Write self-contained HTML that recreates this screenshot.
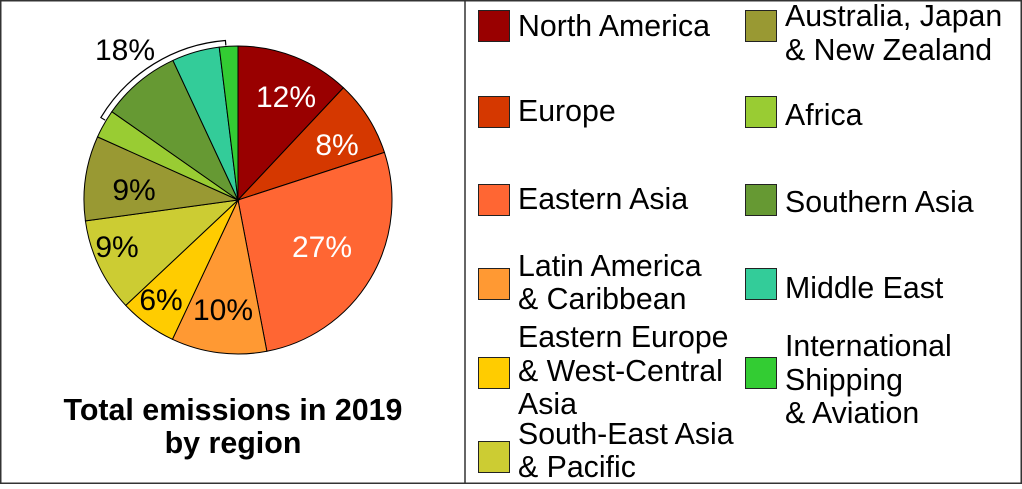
<!DOCTYPE html>
<html><head><meta charset="utf-8"><style>
html,body{margin:0;padding:0;background:#fff}
body{width:1022px;height:484px;overflow:hidden;font-family:"Liberation Sans",Arial,sans-serif}
</style></head><body>
<svg id="s" width="1022" height="484" viewBox="0 0 1022 484" xmlns="http://www.w3.org/2000/svg" font-family="Liberation Sans, Arial, sans-serif">
<rect x="0.5" y="0.5" width="1021" height="483" fill="#fff" stroke="#333" stroke-width="2"/>
<line x1="465" y1="0" x2="465" y2="484" stroke="#333" stroke-width="1.5"/>
<g id="pie"></g>
<path id="br" fill="none" stroke="#000" stroke-width="1.2"/>
<g font-size="30" text-anchor="middle">
<text x="286" y="107" fill="#fff">12%</text>
<text x="337" y="155" fill="#fff">8%</text>
<text x="322" y="257" fill="#fff">27%</text>
<text x="223" y="320">10%</text>
<text x="161" y="310">6%</text>
<text x="117" y="257">9%</text>
<text x="134" y="200">9%</text>
<text x="125" y="60">18%</text>
</g>
<g font-size="30.4" font-weight="bold" text-anchor="middle">
<text x="233" y="420">Total emissions in 2019</text>
<text x="233" y="453">by region</text>
</g>
<g stroke="#222" stroke-width="1">
<rect x="478.5" y="10.5" width="31" height="31" fill="#990000"/>
<rect x="478.5" y="96.5" width="31" height="31" fill="#d53800"/>
<rect x="478.5" y="184.5" width="31" height="31" fill="#ff6633"/>
<rect x="478.5" y="268.5" width="31" height="31" fill="#ff9933"/>
<rect x="478.5" y="357.5" width="31" height="31" fill="#ffcc00"/>
<rect x="478.5" y="441.5" width="31" height="31" fill="#cccc33"/>
<rect x="745.5" y="10.5" width="31" height="31" fill="#999933"/>
<rect x="745.5" y="96.5" width="31" height="31" fill="#99cc33"/>
<rect x="745.5" y="184.5" width="31" height="31" fill="#669933"/>
<rect x="745.5" y="268.5" width="31" height="31" fill="#33cc99"/>
<rect x="745.5" y="357.5" width="31" height="31" fill="#33cc33"/>
</g>
<g font-size="30.3">
<text x="518" y="36">North America</text>
<text x="518" y="121">Europe</text>
<text x="518" y="209">Eastern Asia</text>
<text x="518" y="276">Latin America</text>
<text x="518" y="309">&amp; Caribbean</text>
<text x="518" y="347">Eastern Europe</text>
<text x="518" y="381">&amp; West-Central</text>
<text x="518" y="414">Asia</text>
<text x="518" y="444">South-East Asia</text>
<text x="518" y="477">&amp; Pacific</text>
<text x="785" y="26">Australia, Japan</text>
<text x="785" y="60">&amp; New Zealand</text>
<text x="785" y="125">Africa</text>
<text x="785" y="212">Southern Asia</text>
<text x="785" y="298">Middle East</text>
<text x="785" y="356">International</text>
<text x="785" y="390">Shipping</text>
<text x="785" y="423">&amp; Aviation</text>
</g>
</svg>
<script>
var cx=238,cy=200,r=154;
var sl=[[0,43.2,"#990000"],[43.2,72,"#d53800"],[72,169.2,"#ff6633"],[169.2,205.2,"#ff9933"],[205.2,226.8,"#ffcc00"],[226.8,262.2,"#cccc33"],[262.2,294.2,"#999933"],[294.2,305,"#99cc33"],[305,335,"#669933"],[335,353,"#33cc99"],[353,360,"#33cc33"]];
function pt(a,rr){var t=a*Math.PI/180;return [cx+rr*Math.sin(t),cy-rr*Math.cos(t)];}
var g=document.getElementById("pie"),h="";
sl.forEach(function(s){var p1=pt(s[0],r),p2=pt(s[1],r);var lg=(s[1]-s[0])>180?1:0;
h+='<path d="M'+cx+' '+cy+' L'+p1[0].toFixed(2)+' '+p1[1].toFixed(2)+' A'+r+' '+r+' 0 '+lg+' 1 '+p2[0].toFixed(2)+' '+p2[1].toFixed(2)+' Z" fill="'+s[2]+'" stroke="#000" stroke-width="1"/>';});
g.innerHTML=h;
var a1=301,a2=355.5,R=160,R0=155;
var q0=pt(a1,R0),q1=pt(a1,R),q2=pt(a2,R),q3=pt(a2,R0);
document.getElementById("br").setAttribute("d","M"+q0+" L"+q1+" A"+R+" "+R+" 0 0 1 "+q2+" L"+q3);
</script>
</body></html>
